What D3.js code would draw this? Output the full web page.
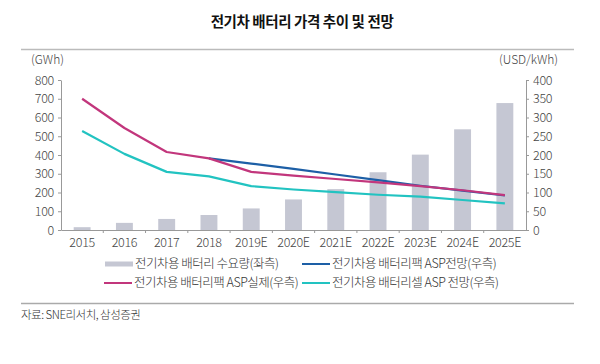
<!DOCTYPE html>
<html>
<head>
<meta charset="utf-8">
<script src="https://cdn.jsdelivr.net/npm/d3@7"></script>
<style>
  body { margin: 0; background: #fff; }
  svg text { font-family: "Noto Sans CJK KR", "Noto Sans", sans-serif; }
</style>
</head>
<body>
<div id="paper"></div>
<script>
// battery price chart: demand bars (left) + ASP lines (right)

const years = ["2015", "2016", "2017", "2018", "2019E", "2020E", "2021E", "2022E", "2023E", "2024E", "2025E"];
const demand = [15, 38, 59, 80, 115, 163, 218, 308, 402, 537, 677];
const packActual = [350, 272, 208, 191, 155, 145, 136, 127, 117, 106, 93];
const packForecast = [null, null, null, 191, 177, 163, 148, 133, 118, 105, 92];
const cellForecast = [264, 203, 155, 143, 117, 108, 101, 94, 89, 80, 71];
const leftTicks = [0, 100, 200, 300, 400, 500, 600, 700, 800];
const rightTicks = [0, 50, 100, 150, 200, 250, 300, 350, 400];

const W = 600, H = 364;
const margin = { top: 80, left: 61, right: 74, bottom: 134 };

const svg = d3.select("#paper").append("svg")
  .attr("width", W).attr("height", H);

const x = d3.scaleBand().domain(years)
  .range([margin.left, W - margin.right]);
const yL = d3.scaleLinear().domain([0, 800]).range([H - margin.bottom, margin.top]);
const yR = d3.scaleLinear().domain([0, 400]).range([H - margin.bottom, margin.top]);

// title + rules
svg.append("text").attr("x", 302).attr("y", 27)
  .attr("text-anchor", "middle").attr("font-size", 14.5).attr("font-weight", "bold")
  .attr("letter-spacing", -0.4)
  .attr("fill", "#111").text("전기차 배터리 가격 추이 및 전망");
svg.append("line").attr("x1", 21).attr("x2", 574).attr("y1", 49.5).attr("y2", 49.5)
  .attr("stroke", "#bbb").attr("stroke-width", 1.3);
svg.append("line").attr("x1", 21).attr("x2", 574).attr("y1", 303.5).attr("y2", 303.5)
  .attr("stroke", "#aaa").attr("stroke-width", 1.3);

svg.append("text").attr("x", 31).attr("y", 64).attr("font-size", 12)
  .attr("fill", "#444").attr("font-weight", 300).text("(GWh)");
svg.append("text").attr("x", 558).attr("y", 64).attr("text-anchor", "end").attr("font-size", 12)
  .attr("fill", "#444").attr("font-weight", 300).text("(USD/kWh)");

// bars
svg.append("g").selectAll("rect")
  .data(demand)
  .join("rect")
  .attr("x", (d, i) => x(years[i]) + x.bandwidth() * 0.3)
  .attr("width", x.bandwidth() * 0.4)
  .attr("y", d => yL(d))
  .attr("height", d => yL(0) - yL(d))
  .attr("fill", "#c5c7d3");

// axes
const axisStyle = g => {
  g.select(".domain").attr("stroke", "#999");
  g.selectAll(".tick line").attr("stroke", "#999");
  g.selectAll(".tick text").attr("fill", "#444").attr("font-size", 12.5)
    .attr("font-weight", 300).attr("letter-spacing", -0.3)
    .attr("font-family", "\"Noto Sans CJK KR\", sans-serif");
};

svg.append("g").attr("transform", `translate(${margin.left},0)`)
  .call(d3.axisLeft(yL).tickValues(leftTicks).tickSize(3).tickSizeOuter(0).tickPadding(4))
  .call(axisStyle);
svg.append("g").attr("transform", `translate(${W - margin.right},0)`)
  .call(d3.axisRight(yR).tickValues(rightTicks).tickSize(3).tickSizeOuter(0).tickPadding(4))
  .call(axisStyle);

const xAxis = svg.append("g").attr("transform", `translate(0,${H - margin.bottom})`)
  .call(d3.axisBottom(x).tickSize(0).tickPadding(8))
  .call(axisStyle);
// small ticks between categories
xAxis.selectAll(".sep").data(years.slice(1)).join("line")
  .attr("class", "sep")
  .attr("x1", d => x(d)).attr("x2", d => x(d))
  .attr("y1", 0).attr("y2", 3).attr("stroke", "#999");

// lines
const line = d3.line()
  .defined(d => d != null)
  .x((d, i) => x(years[i]) + x.bandwidth() / 2)
  .y(d => yR(d));

const series = [
  { vals: packForecast, color: "#1d5fa6" },
  { vals: cellForecast, color: "#22c3c1" },
  { vals: packActual, color: "#c2367c" }
];
series.forEach(s => {
  svg.append("path")
    .attr("d", line(s.vals))
    .attr("fill", "none")
    .attr("stroke", s.color)
    .attr("stroke-width", 2.2)
    .attr("stroke-linejoin", "round");
});

// legend
const legend = [
  { label: "전기차용 배터리 수요량(좌측)", color: "#c5c7d3", bar: true, x: 105, y: 264 },
  { label: "전기차용 배터리팩 ASP전망(우측)", color: "#1d5fa6", x: 302, y: 264 },
  { label: "전기차용 배터리팩 ASP실제(우측)", color: "#c2367c", x: 104, y: 283 },
  { label: "전기차용 배터리셀 ASP 전망(우측)", color: "#22c3c1", x: 302, y: 283 }
];
const lg = svg.append("g").selectAll("g").data(legend).join("g")
  .attr("transform", d => `translate(${d.x},${d.y})`);
lg.append("line")
  .attr("x1", 0).attr("x2", 28).attr("y1", 0).attr("y2", 0)
  .attr("stroke", d => d.color)
  .attr("stroke-width", d => d.bar ? 5 : 2);
lg.append("text")
  .attr("x", 30).attr("y", 0).attr("dy", "0.35em")
  .attr("font-size", 12.5).attr("font-weight", 300).attr("fill", "#333")
  .attr("letter-spacing", -0.5)
  .text(d => d.label);

svg.append("text").attr("x", 21).attr("y", 319).attr("font-size", 11.5)
  .attr("fill", "#333").attr("font-weight", 300).attr("letter-spacing", -0.5)
  .text("자료: SNE리서치, 삼성증권");
</script>
</body>
</html>
